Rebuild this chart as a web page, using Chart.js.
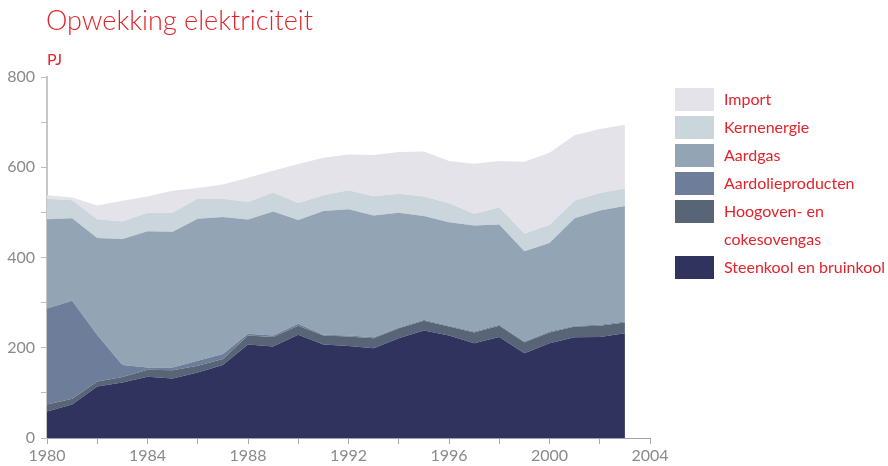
<!DOCTYPE html>
<html><head><meta charset="utf-8">
<script src="https://cdn.jsdelivr.net/npm/chart.js@4"></script>
<style>
html,body{margin:0;padding:0;background:#fff;}
#wrap{position:relative;width:888px;height:466px;overflow:hidden;font-family:Lato,"Open Sans",sans-serif;}
#title{position:absolute;left:46px;top:3px;font-size:27px;font-weight:300;color:#e3232b;white-space:nowrap;}
#unit{position:absolute;left:47px;top:49px;font-size:16px;font-weight:400;color:#e3232b;}
canvas{position:absolute;left:0;top:0;}
#legend{position:absolute;left:675px;top:88px;}
.item{display:flex;align-items:flex-start;}
.sw{width:39px;height:23px;margin-right:10px;flex:none;}
.lbl{font-size:16px;color:#e3232b;line-height:28px;margin-top:-3px;margin-bottom:3px;white-space:nowrap;}
</style>
</head><body>
<div id="wrap">
<canvas id="c" width="888" height="466"></canvas>
<div id="title">Opwekking elektriciteit</div>
<div id="unit">PJ</div>
<div id="legend"></div>
</div>
<script>
const years = [1980,1981,1982,1983,1984,1985,1986,1987,1988,1989,1990,1991,1992,1993,1994,1995,1996,1997,1998,1999,2000,2001,2002,2003];
const steenkool = [59,74,114,123,136,132,145,162,207,203,229,207,204,199,221,238,227,210,224,188,210,223,224,232];
const hoogoven  = [15,13,11,12,15,18,15,13,20,21,20,20,21,22,22,22,20,24,25,24,24,24,25,24];
const aardolie  = [213,217,103,27,5,6,11,11,4,3,4,2,2,2,2,2,2,2,2,2,2,2,2,2];
const aardgas   = [198,183,215,279,302,301,315,304,253,275,230,274,280,270,254,230,229,235,222,200,196,238,253,256];
const kern      = [45,40,42,39,41,42,45,40,39,42,38,35,42,43,42,43,42,26,38,39,40,39,39,39];
const importE   = [8,6,30,46,36,49,23,32,54,48,86,83,79,91,93,100,94,111,103,159,160,145,142,141];
const seriesNames = ['Steenkool en bruinkool','Hoogoven- en\ncokesovengas','Aardolieproducten','Aardgas','Kernenergie','Import'];
const seriesColors = ['#30335d','#586577','#6e7d99','#93a5b4','#cbd5dc','#e3e3e9'];
const seriesValues = [steenkool,hoogoven,aardolie,aardgas,kern,importE];

const datasets = seriesValues.map((vals,i)=>({
  label: seriesNames[i].replace('\n',' '),
  data: years.map((y,j)=>({x:y,y:vals[j]})),
  backgroundColor: seriesColors[i],
  borderColor: seriesColors[i],
  borderWidth: 0,
  pointRadius: 0,
  tension: 0,
  fill: i===0 ? 'origin' : '-1'
}));

const tickFont = {family:'Lato, "Open Sans", sans-serif', size:16};
new Chart(document.getElementById('c'), {
  type:'line',
  data:{datasets},
  options:{
    responsive:false, animation:false, devicePixelRatio:1,
    layout:{padding:{left:0,top:77,right:238,bottom:0}},
    plugins:{legend:{display:false}, tooltip:{enabled:false}},
    scales:{
      x:{type:'linear', min:1980, max:2004,
         ticks:{stepSize:2, autoSkip:false, maxRotation:0, color:'#8a8a8a', font:tickFont, padding:2,
                callback:v=> v%4===0 ? String(v) : ''},
         grid:{drawOnChartArea:false, tickLength:6, tickColor:'#a8a8b4', tickWidth:1},
         border:{color:'#a0a0b0', width:1},
         afterFit:s=>{s.height=28;}},
      y:{stacked:true, min:0, max:800,
         ticks:{stepSize:100, color:'#8a8a8a', font:tickFont, padding:6,
                callback:v=> v%200===0 ? String(v) : ''},
         grid:{drawOnChartArea:false, tickLength:6, tickColor:'#bdbdbd', tickWidth:1},
         border:{color:'#c6c6c6', width:2},
         afterFit:s=>{s.width=47;}}
    }
  }
});

const leg = document.getElementById('legend');
for (let i = seriesNames.length-1; i>=0; i--) {
  const item = document.createElement('div'); item.className='item';
  const sw = document.createElement('div'); sw.className='sw'; sw.style.background=seriesColors[i];
  const lbl = document.createElement('div'); lbl.className='lbl';
  seriesNames[i].split('\n').forEach((line,k)=>{ if(k) lbl.appendChild(document.createElement('br')); lbl.appendChild(document.createTextNode(line)); });
  item.appendChild(sw); item.appendChild(lbl); leg.appendChild(item);
}
</script>
</body></html>
